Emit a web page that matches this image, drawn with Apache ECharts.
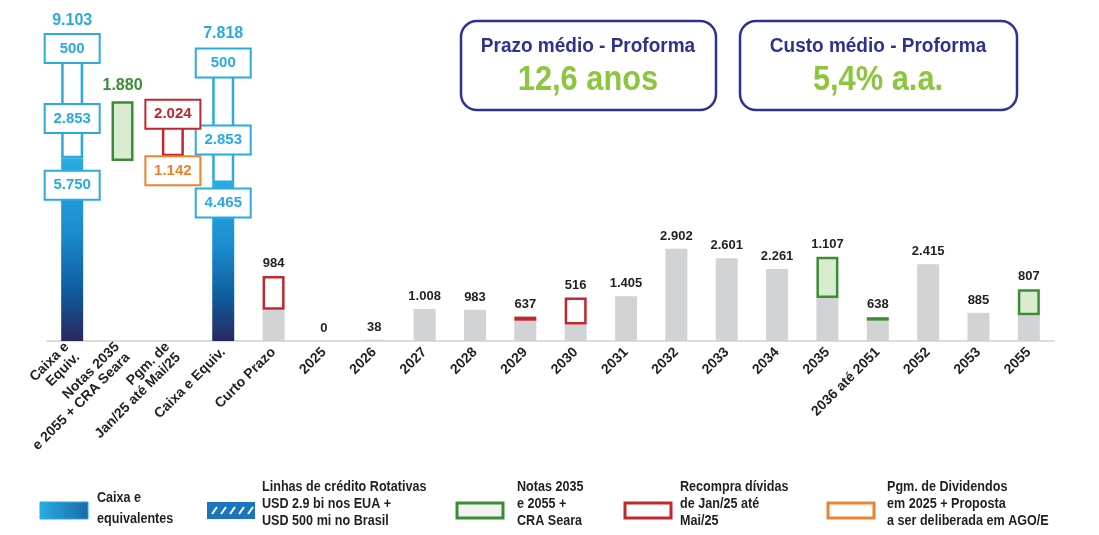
<!DOCTYPE html>
<html>
<head>
<meta charset="utf-8">
<script src="https://cdn.jsdelivr.net/npm/echarts@6/dist/echarts.min.js"></script>
<style>
	html, body { margin: 0; padding: 0; background: #fff; }
	#chart { width: 1099px; height: 535px; }
</style>
</head>
<body>
<div id="chart"></div>
<script>
var categories = ['Caixa e\nEquiv.', 'Notas 2035\ne 2055 + CRA Seara', 'Pgm. de\nJan/25 até Mai/25', 'Caixa e Equiv.', 'Curto Prazo',
	'2025', '2026', '2027', '2028', '2029', '2030', '2031', '2032', '2033', '2034', '2035', '2036 até 2051', '2052', '2053', '2055'];

// alturas (o desenho não é totalmente em escala)
var floatBase   = ['-', 5660, 4900, '-', '-', '-', '-', '-', '-', '-', '-', '-', '-', '-', '-', '-', '-', '-', '-', '-'];
var caixa       = [5750, '-', '-', 4970, '-', '-', '-', '-', '-', '-', '-', '-', '-', '-', '-', '-', '-', '-', '-', '-'];
var amortizacao = ['-', '-', '-', '-', 984, 0, 38, 1008, 983, 637, 516, 1405, 2902, 2601, 2261, 1350, 638, 2415, 885, 807];
var linhasEUA   = [3200, '-', '-', 3520, '-', '-', '-', '-', '-', '-', '-', '-', '-', '-', '-', '-', '-', '-', '-', '-'];
var linhasBR    = [500, '-', '-', 500, '-', '-', '-', '-', '-', '-', '-', '-', '-', '-', '-', '-', '-', '-', '-', '-'];
var dividendos  = ['-', '-', 910, '-', '-', '-', '-', '-', '-', '-', '-', '-', '-', '-', '-', '-', '-', '-', '-', '-'];
var recompra    = ['-', '-', 1760, '-', 1060, '-', '-', '-', '-', 130, 850, '-', '-', '-', '-', '-', '-', '-', '-', '-'];
var notas       = ['-', 1880, '-', '-', '-', '-', '-', '-', '-', '-', '-', '-', '-', '-', '-', 1300, 110, '-', '-', 820];
var totals      = [0, 0, 0, 0, 0, 0, 0, 0, 0, 0, 0, 0, 0, 0, 0, 0, 0, 0, 0, 0];

// textos
var caixaText    = ['5.750', '', '', '4.465'];
var linhasText   = ['2.853', '', '', '2.853'];
var brText       = ['500', '', '', '500'];
var dividText    = '1.142';
var recompraText = '2.024';
var notasText    = '1.880';
var topLabels    = ['9.103', '', '', '7.818', '984', '0', '38', '1.008', '983', '637', '516', '1.405', '2.902', '2.601', '2.261', '1.107', '638', '2.415', '885', '807'];

var FONT = "'Liberation Sans', Arial, sans-serif";
var BLUE = '#29abe2';
var RED = '#c1272d';
var ORANGE = '#f1812f';
var GREEN = '#3d8b37';
var DARK = '#231f20';
var NAVY = '#2e3192';

function boxLabel(text, color, pos) {
	return {
		show: true,
		formatter: text,
		position: pos,
		align: 'center',
		verticalAlign: 'middle',
		color: color,
		backgroundColor: '#fff',
		borderColor: color,
		borderWidth: 2,
		width: 53,
		height: 27,
		lineHeight: 27,
		fontSize: 15,
		fontWeight: 'bold',
		fontFamily: FONT
	};
}

// onde fica cada caixa de rótulo (px a partir do topo da barra)
var caixaPos = { 0: ['50%', 27], 3: ['50%', 20] };
var linhasPos = { 0: ['50%', 62], 3: ['50%', 69] };

function withBoxes(values, texts, color, posMap) {
	return values.map(function (v, i) {
		if (v === '-' || !texts[i]) return v;
		return { value: v, label: boxLabel(texts[i], color, posMap ? posMap[i] : 'inside') };
	});
}

var dividData = dividendos.map(function (v) {
	return v === '-' ? v : { value: v, label: boxLabel(dividText, ORANGE, 'inside') };
});
var recompraData = recompra.map(function (v, i) {
	if (v === '-' || i !== 2) return v;
	return { value: v, label: boxLabel(recompraText, RED, ['50%', 14]) };
});
var notasData = notas.map(function (v, i) {
	if (v === '-' || i !== 1) return v;
	return {
		value: v,
		label: { show: true, position: 'top', distance: 8, formatter: notasText, color: GREEN, fontSize: 16, fontWeight: 'bold', fontFamily: FONT }
	};
});
var totalData = totals.map(function (v, i) {
	if (i === 0 || i === 3) {
		return { value: v, label: { distance: i === 0 ? 12 : 14, color: BLUE, fontSize: 16 } };
	}
	return v;
});

var blueGradient = new echarts.graphic.LinearGradient(0, 0, 0, 1, [
	{ offset: 0, color: '#2aace2' },
	{ offset: 0.4, color: '#1b8ccf' },
	{ offset: 0.72, color: '#0d5d9e' },
	{ offset: 1, color: '#29275f' }
]);

var myChart = echarts.init(document.getElementById('chart'));

function legendText(x, y, text, lh) {
	return {
		type: 'text',
		x: x,
		y: y,
		scaleX: 0.84,
		style: { text: text, fill: DARK, font: 'bold 15px ' + FONT, lineHeight: lh || 17 }
	};
}

var hatch = [];
for (var k = 0; k < 5; k++) {
	hatch.push({
		type: 'line',
		shape: { x1: 212 + k * 9, y1: 514, x2: 217 + k * 9, y2: 507 },
		style: { stroke: '#fff', lineWidth: 2 }
	});
}

var option = {
	animation: false,
	grid: {
		left: 47,
		right: 45,
		top: 23,
		bottom: 194
	},
	xAxis: {
		type: 'category',
		data: categories,
		axisTick: { show: false },
		axisLine: {
			lineStyle: { color: '#dcdddd', width: 2 }
		},
		axisLabel: {
			interval: 0,
			rotate: 45,
			margin: 9,
			color: DARK,
			fontSize: 14,
			fontWeight: 'bold',
			fontFamily: FONT,
			lineHeight: 15
		}
	},
	yAxis: {
		type: 'value',
		min: 0,
		max: 10000,
		show: false,
		splitLine: { show: false }
	},
	series: [
		{
			name: 'base',
			type: 'bar',
			stack: 'Total',
			barWidth: 22,
			itemStyle: { color: 'transparent' },
			data: floatBase
		},
		{
			name: 'Caixa e equivalentes',
			type: 'bar',
			stack: 'Total',
			barWidth: 22,
			itemStyle: { color: blueGradient },
			data: withBoxes(caixa, caixaText, BLUE, caixaPos)
		},
		{
			name: 'Amortização',
			type: 'bar',
			stack: 'Total',
			barWidth: 22,
			itemStyle: { color: '#d1d3d4' },
			data: amortizacao
		},
		{
			name: 'Linhas de crédito Rotativas EUA',
			type: 'bar',
			stack: 'Total',
			barWidth: 22,
			itemStyle: { color: '#fff', borderColor: BLUE, borderWidth: 2.5 },
			data: withBoxes(linhasEUA, linhasText, BLUE, linhasPos)
		},
		{
			name: 'Linhas de crédito Brasil',
			type: 'bar',
			stack: 'Total',
			barWidth: 22,
			itemStyle: { color: '#fff', borderColor: BLUE, borderWidth: 2.5 },
			data: withBoxes(linhasBR, brText, BLUE, null)
		},
		{
			name: 'Pgm. de Dividendos',
			type: 'bar',
			stack: 'Total',
			barWidth: 22,
			itemStyle: { color: '#fff', borderColor: ORANGE, borderWidth: 2.5 },
			data: dividData
		},
		{
			name: 'Recompra',
			type: 'bar',
			stack: 'Total',
			barWidth: 22,
			itemStyle: { color: '#fff', borderColor: RED, borderWidth: 2.5 },
			data: recompraData
		},
		{
			name: 'Notas',
			type: 'bar',
			stack: 'Total',
			barWidth: 22,
			itemStyle: { color: '#d9ecd0', borderColor: GREEN, borderWidth: 2.5 },
			data: notasData
		},
		{
			name: 'total',
			type: 'bar',
			stack: 'Total',
			barWidth: 22,
			itemStyle: { color: 'transparent' },
			label: {
				show: true,
				position: 'top',
				distance: 6,
				color: DARK,
				fontSize: 13,
				fontWeight: 'bold',
				fontFamily: FONT,
				formatter: function (p) { return topLabels[p.dataIndex]; }
			},
			data: totalData
		}
	],
	graphic: [
		// caixas de destaque
		{
			type: 'rect',
			shape: { x: 461, y: 21, width: 255, height: 89, r: 16 },
			style: { fill: '#fff', stroke: NAVY, lineWidth: 2.5 }
		},
		{
			type: 'text', x: 588, y: 46, scaleX: 0.95,
			style: { text: 'Prazo médio - Proforma', fill: NAVY, font: 'bold 20px ' + FONT, align: 'center', verticalAlign: 'middle' }
		},
		{
			type: 'text', x: 588, y: 80, scaleX: 0.88,
			style: { text: '12,6 anos', fill: '#8cc63f', font: 'bold 35px ' + FONT, align: 'center', verticalAlign: 'middle' }
		},
		{
			type: 'rect',
			shape: { x: 740, y: 21, width: 277, height: 89, r: 16 },
			style: { fill: '#fff', stroke: NAVY, lineWidth: 2.5 }
		},
		{
			type: 'text', x: 878, y: 46, scaleX: 0.95,
			style: { text: 'Custo médio - Proforma', fill: NAVY, font: 'bold 20px ' + FONT, align: 'center', verticalAlign: 'middle' }
		},
		{
			type: 'text', x: 878, y: 80, scaleX: 0.88,
			style: { text: '5,4% a.a.', fill: '#8cc63f', font: 'bold 35px ' + FONT, align: 'center', verticalAlign: 'middle' }
		},
		// legenda
		{
			type: 'rect',
			shape: { x: 40, y: 502, width: 48, height: 17 },
			style: {
				fill: new echarts.graphic.LinearGradient(0, 0, 1, 0, [
					{ offset: 0, color: '#2aace2' },
					{ offset: 1, color: '#1a6aa6' }
				]),
				stroke: '#2aace2',
				lineWidth: 1
			}
		},
		legendText(97, 487, 'Caixa e\nequivalentes', 21),
		{
			type: 'rect',
			shape: { x: 207, y: 502, width: 48, height: 17 },
			style: { fill: '#1c75bc' }
		},
		{
			type: 'group',
			children: hatch
		},
		legendText(262, 478, 'Linhas de crédito Rotativas\nUSD 2.9 bi nos EUA +\nUSD 500 mi no Brasil'),
		{
			type: 'rect',
			shape: { x: 457, y: 503, width: 46, height: 15 },
			style: { fill: '#f1f2f2', stroke: GREEN, lineWidth: 3 }
		},
		legendText(517, 478, 'Notas 2035\ne 2055 +\nCRA Seara'),
		{
			type: 'rect',
			shape: { x: 625, y: 503, width: 46, height: 15 },
			style: { fill: '#fff', stroke: RED, lineWidth: 3 }
		},
		legendText(680, 478, 'Recompra dívidas\nde Jan/25 até\nMai/25'),
		{
			type: 'rect',
			shape: { x: 828, y: 503, width: 46, height: 15 },
			style: { fill: '#fff', stroke: ORANGE, lineWidth: 3 }
		},
		legendText(887, 478, 'Pgm. de Dividendos\nem 2025 + Proposta\na ser deliberada em AGO/E')
	]
};

myChart.setOption(option);

window.addEventListener('resize', function () {
	myChart.resize();
});
</script>
</body>
</html>
